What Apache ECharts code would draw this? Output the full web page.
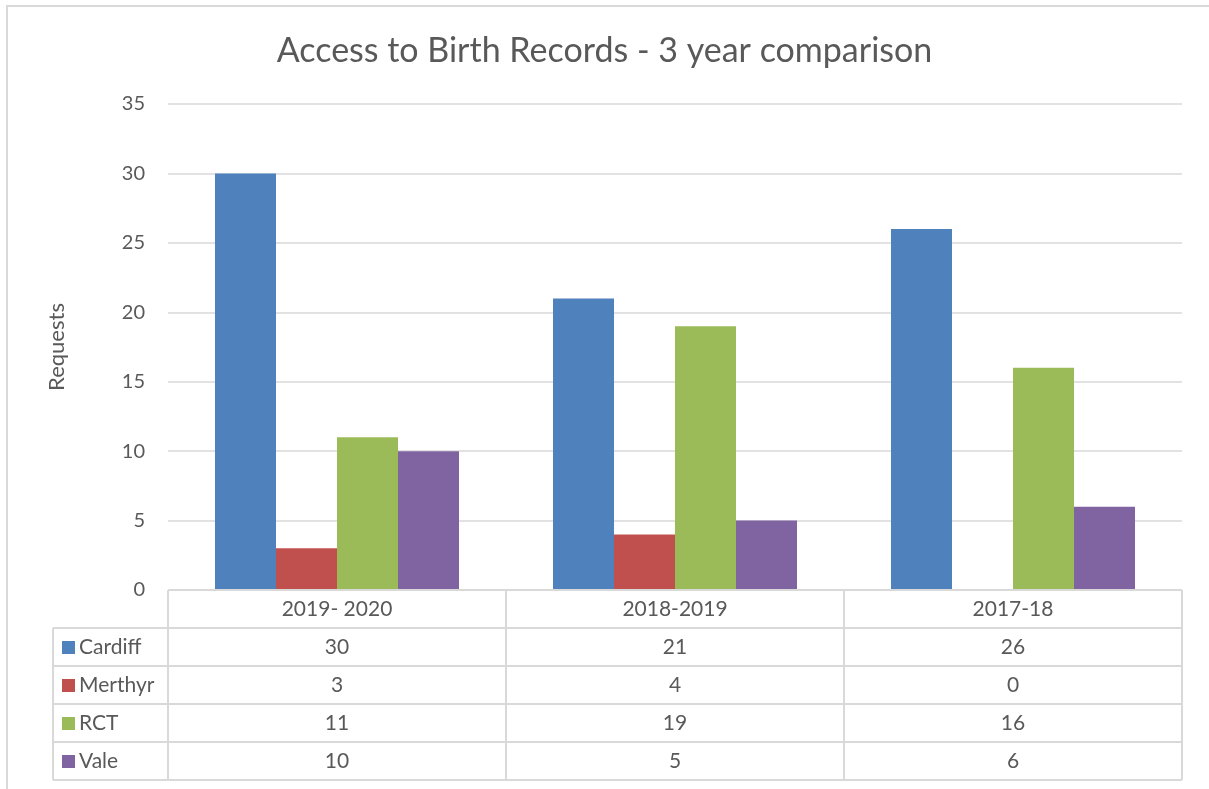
<!DOCTYPE html>
<html><head><meta charset="utf-8">
<script src="https://cdn.jsdelivr.net/npm/echarts@6/dist/echarts.min.js"></script>
<style>html,body{margin:0;padding:0;background:#fff}#c{width:1209px;height:789px}</style>
</head><body><div id="c"></div>
<script>
const categories = ['2019- 2020', '2018-2019', '2017-18'];
const seriesNames = ['Cardiff', 'Merthyr', 'RCT', 'Vale'];
const cardiff = [30, 21, 26];
const merthyr = [3, 4, 0];
const rct = [11, 19, 16];
const vale = [10, 5, 6];
const seriesData = [cardiff, merthyr, rct, vale];
const colors = ['#4F81BD', '#C0504D', '#9BBB59', '#8064A2'];

const FONT = 'Lato';
const chart = echarts.init(document.getElementById('c'));
const option = {
  animation: false,
  title: {
    text: 'Access to Birth Records - 3 year comparison',
    left: 'center', top: 29,
    textStyle: {fontFamily: FONT, fontSize: 34, fontWeight: 'normal', color: '#595959'}
  },
  grid: {left: 168, right: 27, top: 104, bottom: 199},
  xAxis: {
    type: 'category', data: categories,
    axisLine: {show: false}, axisTick: {show: false}, axisLabel: {show: false}
  },
  yAxis: {
    type: 'value', min: 0, max: 35, interval: 5,
    name: 'Requests', nameLocation: 'middle', nameGap: 100, nameRotate: 90,
    nameTextStyle: {fontFamily: FONT, fontSize: 22, color: '#595959'},
    axisLabel: {fontFamily: FONT, fontSize: 20, color: '#595959', margin: 23},
    splitLine: {lineStyle: {color: '#D9D9D9', width: 1.5}},
    axisLine: {show: false}, axisTick: {show: false}
  },
  series: seriesNames.map((n, i) => ({
    name: n, type: 'bar', data: seriesData[i], barWidth: 61, barGap: '0%',
    itemStyle: {color: colors[i]}
  }))
};
chart.setOption(option);

function drawTable() {
  const top = 590, hdrH = 38, rowH = 38, leftX = 53;
  const c0 = chart.convertToPixel({xAxisIndex: 0}, 0);
  const c1 = chart.convertToPixel({xAxisIndex: 0}, 1);
  const band = c1 - c0;
  const xs = categories.map((_, i) => chart.convertToPixel({xAxisIndex: 0}, i));
  const colLeft = xs[0] - band / 2, colRight = xs[xs.length - 1] + band / 2;
  const els = [];
  const line = (x1, y1, x2, y2) => els.push({type: 'line', shape: {x1, y1, x2, y2}, style: {stroke: '#D9D9D9', lineWidth: 2}, z: 10});
  const txt = (x, y, t, align) => els.push({type: 'text', x, y, style: {text: t, fontFamily: FONT, fontSize: 21, fill: '#595959', align: align || 'center', verticalAlign: 'middle'}, z: 11});
  const bottom = top + hdrH + rowH * seriesNames.length;
  // outer frame
  els.push({type: 'rect', shape: {x: 7, y: 6, width: 1300, height: 900}, style: {fill: 'none', stroke: '#D9D9D9', lineWidth: 2}, z: 1});
  // header row
  line(colLeft, top, colRight, top);
  for (let k = 0; k <= categories.length; k++) {
    const x = colLeft + k * band;
    line(x, top, x, bottom);
  }
  categories.forEach((c, i) => txt(xs[i], top + hdrH / 2, c));
  line(leftX, top + hdrH, leftX, bottom);
  for (let r = 0; r <= seriesNames.length; r++) {
    const y = top + hdrH + r * rowH;
    line(leftX, y, colRight, y);
  }
  seriesNames.forEach((n, r) => {
    const yc = top + hdrH + r * rowH + rowH / 2;
    els.push({type: 'rect', shape: {x: leftX + 9, y: yc - 6, width: 13, height: 13}, style: {fill: colors[r]}, z: 11});
    txt(leftX + 26, yc, n, 'left');
    seriesData[r].forEach((v, i) => txt(xs[i], yc, String(v)));
  });
  chart.setOption({graphic: {elements: els}});
}
drawTable();
</script></body></html>
